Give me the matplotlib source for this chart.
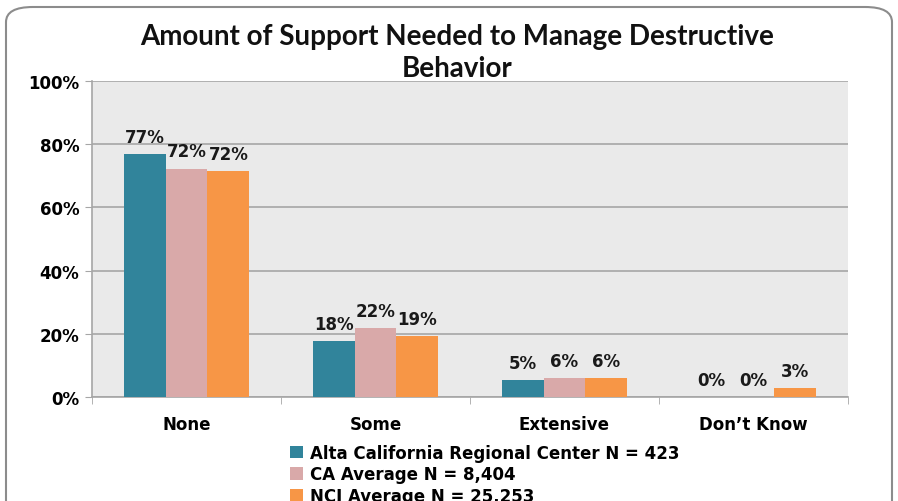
import matplotlib
matplotlib.use("Agg")
import matplotlib.pyplot as plt
import numpy as np
from matplotlib.patches import FancyBboxPatch

categories = ["None", "Some", "Extensive", "Don\u2019t Know"]
series_names = ["Alta California Regional Center N = 423",
                "CA Average N = 8,404",
                "NCI Average N = 25,253"]
alta = [77, 18, 5, 0]
ca = [72, 22, 6, 0]
nci = [72, 19, 6, 3]
alta_h = [76.9, 17.7, 5.3, 0]
ca_h = [72.3, 21.8, 5.9, 0]
nci_h = [71.6, 19.3, 5.9, 2.8]
colors = ["#31849B", "#D9A9A9", "#F79646"]
yticks = [0, 20, 40, 60, 80, 100]

fig = plt.figure(figsize=(8.98, 5.02), dpi=100)
border = FancyBboxPatch((6/898, -0.05), 886/898, 1 - 8/502 + 0.05,
                        boxstyle="round,pad=0,rounding_size=0.03",
                        transform=fig.transFigure, fill=False,
                        edgecolor="#8C8C8C", linewidth=1.5)
fig.patches.append(border)

ax = fig.add_axes([92/898, 1 - 398/502, 756/898, 316/502])
ax.set_facecolor("#EAEAEA")
x = np.arange(len(categories))
w = 0.222
fp = dict(family="DejaVu Sans", weight="bold")
for i, (h, lab, c) in enumerate(zip([alta_h, ca_h, nci_h], [alta, ca, nci], colors)):
    xs = x + (i - 1) * w
    ax.bar(xs, h, width=w, color=c, label=series_names[i], zorder=3)
    for xx, hh, ll in zip(xs, h, lab):
        ax.text(xx, hh + 2.6, f"{ll}%", ha="center", va="bottom",
                fontsize=12, color="#1a1a1a", **fp)

ax.set_ylim(0, 100)
ax.set_xlim(-0.5, 3.5)
ax.set_yticks(yticks)
ax.set_yticklabels([f"{t}%" for t in yticks], fontsize=12, **fp)
ax.yaxis.grid(True, color="#A6A6A6", linewidth=1.2, zorder=0)
ax.set_axisbelow(True)
ax.set_xticks(x)
ax.set_xticklabels(categories, fontsize=12, **fp)
ax.set_xticks(np.arange(-0.5, 4.0, 1.0), minor=True)
ax.tick_params(axis="x", which="major", length=0, pad=13)
ax.tick_params(axis="x", which="minor", length=5, color="#A6A6A6")
ax.tick_params(axis="y", length=5, color="#A6A6A6", pad=4)
for s in ["top", "right"]:
    ax.spines[s].set_visible(False)
ax.spines["left"].set_color("#A6A6A6")
ax.spines["bottom"].set_color("#A6A6A6")
ax.spines["left"].set_linewidth(1.2)
ax.spines["bottom"].set_linewidth(1.2)

fig.text(457/898, 1 - 53/502, "Amount of Support Needed to Manage Destructive\nBehavior",
         ha="center", va="center", fontsize=20, linespacing=1.3,
         family="Lato", weight="bold", color="#111111")

leg = ax.legend(loc="upper left", bbox_to_anchor=(290/898, 1 - 445/502),
                bbox_transform=fig.transFigure, frameon=False,
                prop=dict(family="DejaVu Sans", weight="bold", size=12),
                handlelength=0.75, handleheight=0.75, handletextpad=0.45,
                labelspacing=0.2, borderaxespad=0, borderpad=0)

fig.savefig("out.png", dpi=100)
